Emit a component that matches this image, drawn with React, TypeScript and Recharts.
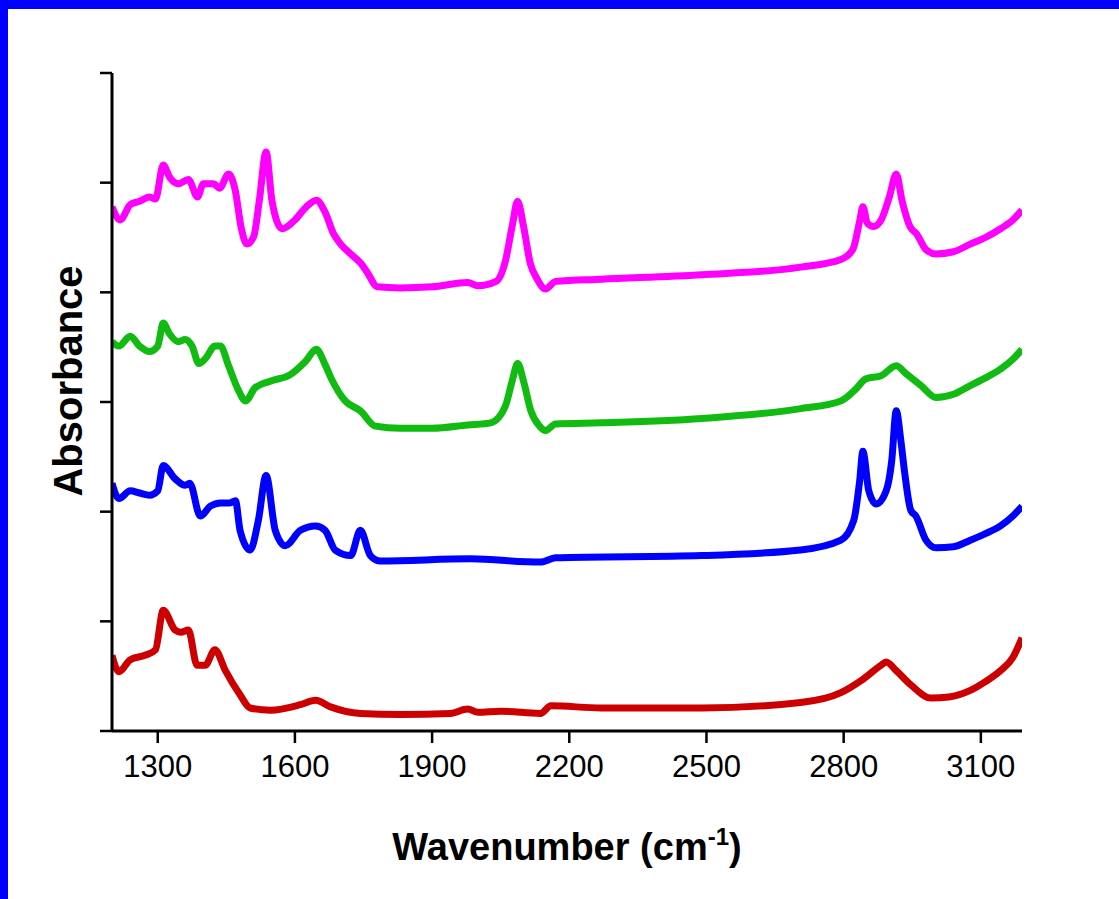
import React from 'react';
import { LineChart, Line, XAxis, YAxis } from 'recharts';

// wavenumber (cm-1) / absorbance pairs (offset stacked)
const magentaWn = [1200, 1218, 1240, 1260, 1282, 1295, 1312, 1326, 1345, 1367, 1387, 1400, 1422, 1435, 1455, 1470, 1482, 1495, 1510, 1522, 1537, 1550, 1572, 1600, 1625, 1647, 1665, 1685, 1700, 1722, 1745, 1760, 1780, 1830, 1900, 1978, 2000, 2040, 2060, 2075, 2087, 2100, 2115, 2130, 2148, 2170, 2270, 2490, 2706, 2794, 2820, 2835, 2842, 2852, 2865, 2882, 2900, 2915, 2928, 2945, 2960, 2980, 3002, 3040, 3077, 3110, 3143, 3170, 3190];
const magentaAbs = [4.78, 4.66, 4.8, 4.83, 4.87, 4.85, 5.16, 5.05, 4.99, 5.03, 4.87, 4.99, 4.99, 4.95, 5.08, 4.92, 4.6, 4.44, 4.51, 4.83, 5.28, 4.83, 4.58, 4.66, 4.78, 4.84, 4.74, 4.53, 4.44, 4.35, 4.26, 4.17, 4.05, 4.04, 4.05, 4.09, 4.06, 4.1, 4.28, 4.6, 4.83, 4.6, 4.26, 4.12, 4.03, 4.1, 4.12, 4.16, 4.23, 4.3, 4.39, 4.65, 4.78, 4.63, 4.6, 4.66, 4.87, 5.08, 4.83, 4.6, 4.53, 4.39, 4.35, 4.37, 4.44, 4.5, 4.58, 4.66, 4.75];

const greenWn = [1200, 1215, 1240, 1260, 1282, 1300, 1312, 1326, 1345, 1360, 1375, 1390, 1405, 1425, 1437, 1455, 1475, 1492, 1513, 1546, 1590, 1623, 1647, 1665, 1680, 1710, 1743, 1776, 1830, 1900, 1978, 2028, 2060, 2075, 2087, 2100, 2116, 2135, 2148, 2170, 2270, 2490, 2706, 2794, 2827, 2848, 2882, 2915, 2936, 2969, 3002, 3040, 3077, 3110, 3143, 3170, 3190];
const greenAbs = [3.55, 3.51, 3.6, 3.51, 3.46, 3.51, 3.72, 3.62, 3.55, 3.57, 3.51, 3.35, 3.4, 3.51, 3.51, 3.33, 3.12, 3.01, 3.13, 3.19, 3.25, 3.37, 3.48, 3.35, 3.21, 3.01, 2.92, 2.78, 2.76, 2.76, 2.79, 2.81, 2.96, 3.19, 3.35, 3.19, 2.92, 2.78, 2.74, 2.8, 2.81, 2.85, 2.94, 3.01, 3.12, 3.21, 3.24, 3.33, 3.26, 3.15, 3.04, 3.07, 3.15, 3.22, 3.3, 3.39, 3.48];

const blueWn = [1200, 1215, 1240, 1260, 1282, 1300, 1312, 1338, 1360, 1370, 1393, 1415, 1437, 1458, 1470, 1480, 1502, 1520, 1537, 1557, 1579, 1612, 1645, 1666, 1688, 1722, 1743, 1765, 1787, 1984, 2137, 2170, 2490, 2706, 2794, 2822, 2835, 2842, 2855, 2871, 2893, 2905, 2915, 2925, 2933, 2947, 2958, 2980, 3002, 3040, 3077, 3110, 3143, 3170, 3190];
const blueAbs = [2.26, 2.12, 2.19, 2.17, 2.15, 2.19, 2.42, 2.3, 2.24, 2.26, 1.96, 2.05, 2.08, 2.08, 2.1, 1.83, 1.65, 1.92, 2.33, 1.83, 1.69, 1.83, 1.87, 1.83, 1.65, 1.6, 1.83, 1.6, 1.55, 1.57, 1.54, 1.58, 1.6, 1.65, 1.74, 1.92, 2.28, 2.55, 2.19, 2.07, 2.19, 2.46, 2.92, 2.65, 2.37, 2.01, 1.96, 1.74, 1.67, 1.68, 1.74, 1.8, 1.87, 1.96, 2.05];

const redWn = [1200, 1215, 1240, 1272, 1295, 1312, 1338, 1350, 1367, 1386, 1404, 1425, 1448, 1480, 1502, 1546, 1612, 1645, 1678, 1743, 1830, 1940, 1978, 2000, 2050, 2137, 2160, 2270, 2490, 2706, 2794, 2838, 2882, 2893, 2915, 2947, 2991, 3030, 3077, 3110, 3143, 3170, 3190];
const redAbs = [0.69, 0.54, 0.65, 0.69, 0.74, 1.1, 0.92, 0.9, 0.92, 0.6, 0.6, 0.74, 0.55, 0.33, 0.21, 0.19, 0.24, 0.28, 0.22, 0.16, 0.15, 0.16, 0.2, 0.17, 0.18, 0.16, 0.23, 0.21, 0.21, 0.26, 0.35, 0.46, 0.6, 0.63, 0.55, 0.42, 0.3, 0.31, 0.37, 0.45, 0.55, 0.67, 0.85];

const xTicks = [1300, 1600, 1900, 2200, 2500, 2800, 3100];
const yTicks = [0, 1, 2, 3, 4, 5, 6];

const toPoints = (wn: number[], abs: number[]) => wn.map((w, i) => ({ wn: w, abs: abs[i] }));

const series = [
  { name: 'magenta', color: '#ff00ff', data: toPoints(magentaWn, magentaAbs) },
  { name: 'green', color: '#11bb11', data: toPoints(greenWn, greenAbs) },
  { name: 'blue', color: '#0000ff', data: toPoints(blueWn, blueAbs) },
  { name: 'red', color: '#cc0000', data: toPoints(redWn, redAbs) },
];

const FONT = '"Liberation Sans", Arial, sans-serif';

const YTitle = () => (
  <text
    x={82}
    y={381}
    transform="rotate(-90 82 381)"
    textAnchor="middle"
    fontFamily={FONT}
    fontWeight="bold"
    fontSize={40}
    fill="#000"
  >
    Absorbance
  </text>
);

const XTitle = () => (
  <text x={567} y={860} textAnchor="middle" fontFamily={FONT} fontWeight="bold" fontSize={38} fill="#000">
    Wavenumber (cm
    <tspan dy={-15} fontSize={24}>-1</tspan>
    <tspan dy={15}>)</tspan>
  </text>
);

// y axis has tick marks only, no numbers
const NoLabel = () => <g />;

const App: React.FC = () => {
  return (
    <div style={{ position: 'absolute', left: 0, top: 0, width: 1119, height: 899, background: '#fff' }}>
      <div style={{ position: 'absolute', left: 0, top: 0 }}>
        <LineChart width={1119} height={899} margin={{ top: 73, right: 97, bottom: 68, left: 12 }}>
          <XAxis
            type="number"
            dataKey="wn"
            domain={[1200, 3190]}
            ticks={xTicks}
            allowDataOverflow
            height={100}
            tickSize={12}
            tickMargin={12}
            fontSize={31}
            axisLine={{ stroke: '#000', strokeWidth: 3 }}
            tickLine={{ stroke: '#000', strokeWidth: 2.5 }}
            tick={{ fill: '#000', fontSize: 31, fontFamily: FONT, style: { fontSize: 31 } }}
            label={<XTitle />}
          />
          <YAxis
            type="number"
            dataKey="abs"
            domain={[0, 6]}
            ticks={yTicks}
            allowDataOverflow
            width={100}
            tickSize={12}
            axisLine={{ stroke: '#000', strokeWidth: 3 }}
            tickLine={{ stroke: '#000', strokeWidth: 2.5 }}
            tick={<NoLabel />}
            label={<YTitle />}
          />
          {series.map((s) => (
            <Line
              key={s.name}
              data={s.data}
              dataKey="abs"
              type="monotone"
              stroke={s.color}
              strokeWidth={7}
              dot={false}
              isAnimationActive={false}
            />
          ))}
        </LineChart>
      </div>
      <div style={{ position: 'absolute', left: 0, top: 0, width: 8, height: 899, background: '#0000ff' }} />
      <div style={{ position: 'absolute', left: 0, top: 0, width: 1119, height: 9, background: '#0000ff' }} />
    </div>
  );
};

export default App;
